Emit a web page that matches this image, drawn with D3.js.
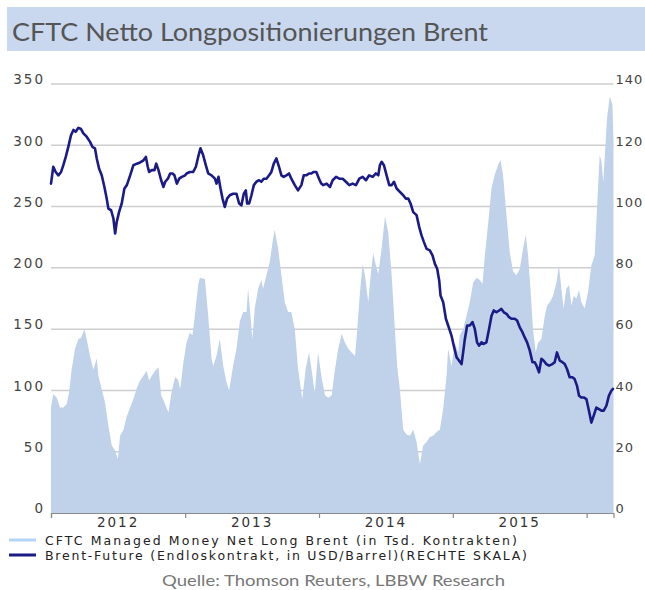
<!DOCTYPE html>
<html><head><meta charset="utf-8">
<script src="https://cdn.jsdelivr.net/npm/d3@7"></script>
<style>body{margin:0;background:#fff} svg{display:block}</style>
</head><body>
<svg id="chart" width="645" height="590"></svg>
<script>
const title = "CFTC Netto Longpositionierungen Brent";
const source = "Quelle: Thomson Reuters, LBBW Research";
const legendLabels = ["CFTC Managed Money Net Long Brent (in Tsd. Kontrakten)",
                      "Brent-Future (Endloskontrakt, in USD/Barrel)(RECHTE SKALA)"];
const leftTicks = [0, 50, 100, 150, 200, 250, 300, 350];
const rightTicks = [0, 20, 40, 60, 80, 100, 120, 140];
const yearLabels = [2012, 2013, 2014, 2015];
const yearBounds = [2012, 2013, 2014, 2015, 2016];
const xEnd = 2016.2;

// CFTC managed money net long (thousand contracts), time in decimal years
const cftcT = [2012.000,2012.017,2012.043,2012.067,2012.092,2012.117,2012.134,2012.154,2012.179,2012.204,2012.224,2012.249,2012.266,2012.291,2012.316,2012.341,2012.353,2012.378,2012.403,2012.428,2012.453,2012.478,2012.498,2012.515,2012.540,2012.565,2012.590,2012.614,2012.640,2012.664,2012.689,2012.714,2012.731,2012.751,2012.776,2012.801,2012.821,2012.846,2012.875,2012.901,2012.925,2012.946,2012.963,2012.987,
2013.010,2013.035,2013.055,2013.072,2013.097,2013.110,2013.147,2013.172,2013.197,2013.209,2013.234,2013.259,2013.284,2013.308,2013.328,2013.358,2013.383,2013.408,2013.433,2013.458,2013.470,2013.483,2013.502,2013.520,2013.545,2013.569,2013.582,2013.607,2013.632,2013.657,2013.669,2013.694,2013.719,2013.744,2013.769,2013.793,2013.819,2013.843,2013.875,2013.901,2013.925,2013.943,2013.968,2013.993,
2014.017,2014.045,2014.069,2014.095,2014.119,2014.144,2014.169,2014.194,2014.219,2014.244,2014.269,2014.286,2014.306,2014.326,2014.343,2014.368,2014.386,2014.405,2014.425,2014.443,2014.468,2014.493,2014.517,2014.543,2014.567,2014.584,2014.604,2014.629,2014.654,2014.679,2014.704,2014.729,2014.754,2014.778,2014.804,2014.828,2014.853,2014.878,2014.903,2014.928,2014.953,2014.965,2014.990,
2015.015,2015.040,2015.052,2015.077,2015.102,2015.127,2015.152,2015.177,2015.201,2015.222,2015.239,2015.263,2015.289,2015.313,2015.338,2015.356,2015.375,2015.401,2015.425,2015.450,2015.475,2015.500,2015.525,2015.545,2015.562,2015.580,2015.599,2015.619,2015.637,2015.662,2015.687,2015.704,2015.724,2015.749,2015.774,2015.793,2015.811,2015.828,2015.848,2015.868,2015.886,2015.903,2015.923,2015.943,2015.960,2015.985,
2016.010,2016.035,2016.060,2016.077,2016.097,2016.110,2016.124,2016.134,2016.152,2016.172,2016.192,2016.200];
const cftcV = [86,97,94,86,86,89,98,117,134,142,143,150,142,128,117,126,112,101,90,71,55,51,44,63,68,79,86,93,102,108,112,116,108,112,116,119,96,90,82,100,111,109,101,123,
139,147,145,161,186,192,191,161,126,120,128,142,120,107,100,120,134,156,164,164,183,167,142,167,183,190,183,194,205,224,231,216,194,172,164,164,150,118,93,118,131,118,98,131,
112,96,94,96,117,134,146,139,134,131,128,150,180,203,194,172,194,212,202,195,216,242,229,194,150,120,101,68,64,63,68,58,40,55,58,62,63,66,68,85,112,134,120,
139,131,145,150,161,172,188,192,190,187,210,235,265,276,284,288,276,243,213,197,194,199,216,227,210,183,150,131,139,142,161,169,172,177,188,202,183,167,183,186,169,177,175,182,172,167,
180,202,210,248,292,287,270,289,322,340,333,303];

// Brent future (USD/barrel), right scale
const brentT = [2012.000,2012.017,2012.035,2012.055,2012.075,2012.092,2012.110,2012.129,2012.149,2012.167,2012.184,2012.204,2012.224,2012.241,2012.266,2012.291,2012.308,2012.328,2012.341,2012.358,2012.378,2012.398,2012.415,2012.428,2012.448,2012.465,2012.478,2012.490,2012.507,2012.527,2012.547,2012.565,2012.590,2012.614,2012.640,2012.664,2012.689,2012.707,2012.721,2012.731,2012.751,2012.771,2012.784,2012.801,2012.821,2012.838,2012.851,2012.871,2012.888,2012.905,2012.920,2012.938,2012.955,2012.975,
2013.000,2013.010,2013.035,2013.060,2013.080,2013.097,2013.114,2013.134,2013.154,2013.172,2013.197,2013.222,2013.234,2013.249,2013.264,2013.279,2013.296,2013.313,2013.333,2013.358,2013.383,2013.403,2013.420,2013.438,2013.453,2013.463,2013.478,2013.495,2013.513,2013.532,2013.552,2013.569,2013.587,2013.607,2013.627,2013.644,2013.662,2013.681,2013.701,2013.719,2013.736,2013.756,2013.776,2013.793,2013.819,2013.843,2013.868,2013.886,2013.905,2013.925,2013.943,2013.960,2013.980,
2014.000,2014.017,2014.032,2014.057,2014.082,2014.102,2014.127,2014.152,2014.177,2014.201,2014.226,2014.251,2014.276,2014.301,2014.326,2014.351,2014.375,2014.401,2014.425,2014.443,2014.455,2014.468,2014.485,2014.505,2014.525,2014.543,2014.560,2014.580,2014.604,2014.629,2014.649,2014.667,2014.684,2014.704,2014.729,2014.749,2014.766,2014.784,2014.804,2014.828,2014.848,2014.866,2014.883,2014.898,2014.908,2014.928,2014.948,2014.965,2014.990,
2015.007,2015.028,2015.047,2015.065,2015.077,2015.090,2015.107,2015.127,2015.147,2015.164,2015.181,2015.196,2015.214,2015.231,2015.251,2015.271,2015.289,2015.306,2015.326,2015.346,2015.363,2015.381,2015.401,2015.420,2015.438,2015.463,2015.480,2015.500,2015.520,2015.537,2015.555,2015.575,2015.595,2015.612,2015.625,2015.644,2015.662,2015.679,2015.699,2015.719,2015.744,2015.761,2015.778,2015.799,2015.819,2015.836,2015.853,2015.873,2015.893,2015.910,2015.928,2015.943,2015.960,2015.978,2015.998,
2016.017,2016.035,2016.052,2016.072,2016.092,2016.110,2016.127,2016.147,2016.166,2016.184,2016.196];
const brentV = [107.5,113,111.3,110.2,111.3,113.5,116.2,119.5,123.3,125,124.4,125.7,125.3,123.9,122.8,121.1,119.5,119,115.7,112.4,110.2,106.4,102.6,99.3,98.8,96.1,91.2,95,98.2,101,105.9,107,110.2,113.5,114,114.4,115.1,116.2,113,111.3,111.9,111.9,114,111.9,108.6,106.4,108.1,109.1,110.8,110.8,110.2,107.5,109.1,109.7,
110.2,110.8,111.3,111.3,113,116.2,119,116.8,113.5,110.8,110.2,109.1,107.5,109.7,105.9,102.6,99.9,102.6,103.7,104.2,104.2,101,100.4,104.2,105.3,101,101,103.7,107,108.1,108.6,108.1,109.1,109.1,110.2,111.3,114,115.7,113,110.2,109.7,110.2,110.8,109.1,107,105.3,107,110.2,110.2,110.8,110.8,111.3,111.3,
109.1,107.5,107,107.5,106.4,108.6,109.7,109.1,109.1,108.1,107,107.5,107,109.1,109.7,108.6,110.2,109.7,110.8,110.2,113.5,114.6,113.5,110.2,107,107,108.1,105.9,104.8,103.7,102.6,102.6,101,98.2,97.2,93.3,90.6,88.4,86.2,85.7,84.1,81.3,79.7,75.9,71,68.8,63.4,61.2,57.9,
54.6,50.8,49.7,48.6,52.4,56.8,61.2,61.2,62.3,60.1,55.7,54.6,55.7,55.2,55.7,60.1,64.4,66.1,65.5,66.1,66.6,65.5,65,63.9,63.4,63.4,62.8,60.6,59,57.3,55.7,53,49.2,49.2,48.1,45.9,50.3,49.7,48.6,48.1,48.6,49.2,52.4,49.7,49.2,48.6,47,44.3,44.3,43.7,41.5,38.3,37.7,37.7,37.2,
33.4,29.5,31.7,34.4,33.9,33.4,33.4,35,38.3,39.9,40.5];

function yearToDate(t) {
  const y = Math.floor(t);
  const s = new Date(y, 0, 1), e = new Date(y + 1, 0, 1);
  return new Date(+s + (t - y) * (e - s));
}

const cftc = cftcT.map((t, i) => ({date: yearToDate(t), value: cftcV[i]}));
const brent = brentT.map((t, i) => ({date: yearToDate(t), value: brentV[i]}));

const svg = d3.select("#chart");
const W = 645, H = 590;
const plot = {left: 51, right: 613.5, top: 84, bottom: 513};

svg.append("rect").attr("width", W).attr("height", H).attr("fill", "#fff");

// title band
svg.append("rect").attr("x", 7).attr("y", 7).attr("width", W - 7).attr("height", 44).attr("fill", "#c9d8ef");
svg.append("text").attr("x", 12).attr("y", 41)
  .attr("font-family", "Lato, 'Open Sans', sans-serif").attr("font-size", 25)
  .attr("fill", "#555").attr("textLength", 476).attr("lengthAdjust", "spacingAndGlyphs")
  .text(title);

const x = d3.scaleTime().domain([yearToDate(2012), yearToDate(xEnd)]).range([plot.left, plot.right]);
const yL = d3.scaleLinear().domain([0, 350]).range([plot.bottom, plot.top]);
const yR = d3.scaleLinear().domain([0, 140]).range([plot.bottom, plot.top]);

// gridlines
svg.append("g").selectAll("line").data(leftTicks.filter(d => d > 0)).join("line")
  .attr("x1", plot.left).attr("x2", plot.right)
  .attr("y1", d => yL(d)).attr("y2", d => yL(d))
  .attr("stroke", "#cecece").attr("stroke-width", 1.5);

// area
svg.append("path").datum(cftc)
  .attr("fill", "#c0d1ea")
  .attr("d", d3.area().x(d => x(d.date)).y0(plot.bottom).y1(d => yL(d.value)));

// line
svg.append("path").datum(brent)
  .attr("fill", "none").attr("stroke", "#1b1b86").attr("stroke-width", 2.6)
  .attr("stroke-linejoin", "round").attr("stroke-linecap", "round")
  .attr("d", d3.line().x(d => x(d.date)).y(d => yR(d.value)));

// x axis
const xAxis = d3.axisBottom(x).tickValues(yearBounds.map(yearToDate)).tickFormat("")
  .tickSize(5).tickSizeOuter(5);
const gx = svg.append("g").attr("transform", `translate(0,${plot.bottom})`).call(xAxis);
gx.select(".domain").attr("stroke", "#8a8a8a").attr("stroke-width", 1.2);
gx.selectAll(".tick line").attr("stroke", "#8a8a8a").attr("stroke-width", 1.2);

svg.append("g").selectAll("text").data(yearLabels).join("text")
  .attr("x", d => (x(yearToDate(d)) + x(yearToDate(d + 1))) / 2)
  .attr("y", 527)
  .attr("text-anchor", "middle")
  .attr("font-family", "'DejaVu Sans', sans-serif").attr("font-size", 13.5)
  .attr("letter-spacing", 2).attr("fill", "#333")
  .text(d => d);

// left axis labels
const yAxisL = d3.axisLeft(yL).tickValues(leftTicks).tickSize(0).tickPadding(6);
const gl = svg.append("g").attr("transform", `translate(${plot.left},0)`).call(yAxisL);
gl.select(".domain").remove();
gl.selectAll("text").attr("font-family", "'DejaVu Sans', sans-serif").attr("font-size", 13.5)
  .attr("letter-spacing", 2).attr("fill", "#444").attr("dy", "-0.02em");

// right axis labels
const yAxisR = d3.axisRight(yR).tickValues(rightTicks).tickSize(0).tickPadding(2);
const gr = svg.append("g").attr("transform", `translate(${plot.right},0)`).call(yAxisR);
gr.select(".domain").remove();
gr.selectAll("text").attr("font-family", "'DejaVu Sans', sans-serif").attr("font-size", 13)
  .attr("letter-spacing", 1).attr("fill", "#444").attr("dy", "-0.02em");

// legend
const legendColors = ["#b3d6f6", "#1b1b86"];
const legendY = [540, 555];
const legendLen = [472, 482];
legendLabels.forEach((lab, i) => {
  svg.append("line").attr("x1", 9).attr("x2", 36).attr("y1", legendY[i]).attr("y2", legendY[i])
    .attr("stroke", legendColors[i]).attr("stroke-width", 3);
  svg.append("text").attr("x", 45).attr("y", legendY[i] + 4.5)
    .attr("font-family", "'DejaVu Sans', sans-serif").attr("font-size", 12.5)
    .attr("fill", "#222").attr("textLength", legendLen[i]).attr("lengthAdjust", "spacing")
    .text(lab);
});

// source
svg.append("text").attr("x", 162).attr("y", 586)
  .attr("font-family", "Lato, 'Open Sans', sans-serif").attr("font-size", 16)
  .attr("fill", "#777").attr("textLength", 343).attr("lengthAdjust", "spacingAndGlyphs")
  .text(source);
</script>
</body></html>
